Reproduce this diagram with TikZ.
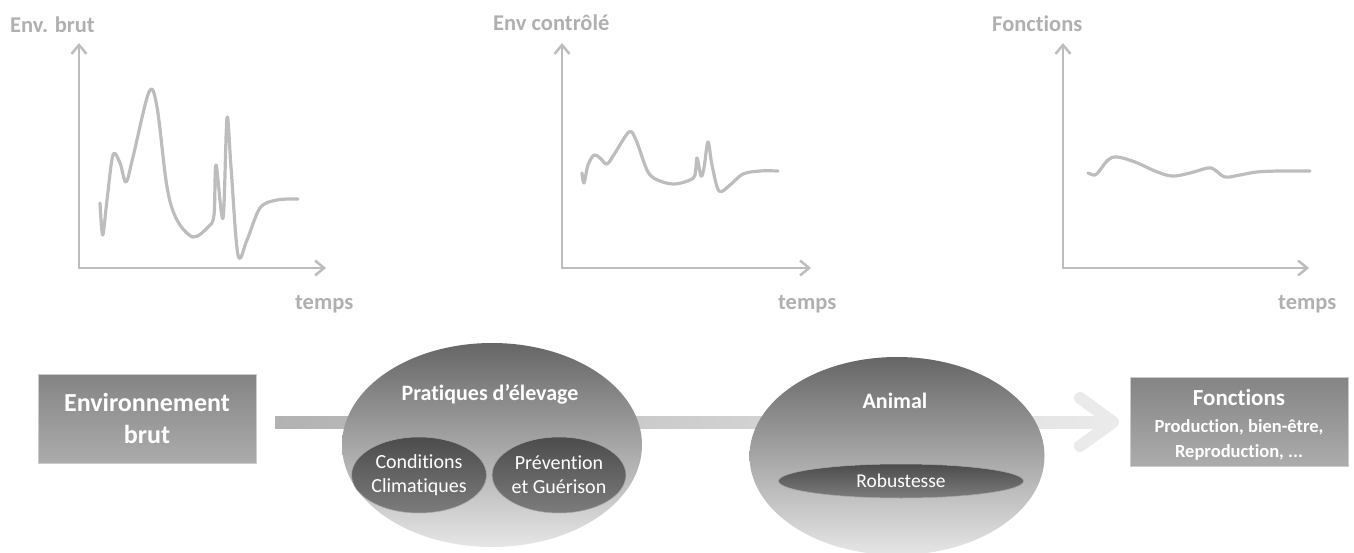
\documentclass[tikz,border=0pt]{standalone}
\usepackage{fontspec}
\setmainfont{Carlito}[Ligatures={NoCommon,NoContextual},Contextuals=NoAlternate]
\usetikzlibrary{shapes.geometric,arrows.meta}
\definecolor{axc}{HTML}{BDBDBD}
\definecolor{lblc}{HTML}{B0B0B0}
\definecolor{boxtop}{HTML}{848484}
\definecolor{boxbot}{HTML}{ACACAC}
\definecolor{boxedge}{HTML}{CBCBCB}
\definecolor{elltop}{HTML}{666666}
\definecolor{ellbot}{HTML}{E6E6E6}
\definecolor{intop}{HTML}{4C4C4C}
\definecolor{inbot}{HTML}{7C7C7C}
\definecolor{shaftl}{HTML}{B2B2B2}
\definecolor{shaftr}{HTML}{EAEAEA}
\begin{document}
\begin{tikzpicture}[x=1pt,y=-1pt,
  axis/.style={draw=axc,line width=2.5pt,{Straight Barb[length=9pt,width=15pt]}-{Straight Barb[length=9pt,width=15pt]}},
  curve/.style={draw=axc,line width=3.2pt,line cap=round,line join=round},
  lbl/.style={text=lblc,font=\fontsize{22.5}{27}\selectfont\bfseries,inner sep=0},
  graybox/.style={rectangle,draw=boxedge,line width=0.8pt,top color=boxtop,bottom color=boxbot,minimum width=218pt,minimum height=89pt,inner sep=0,text=white,align=center},
  bigell/.style={ellipse,top color=elltop,bottom color=ellbot,inner sep=0},
  smallell/.style={ellipse,draw=gray!70,line width=0.5pt,top color=intop,bottom color=inbot,inner sep=0,text=white,align=center},
  wtitle/.style={text=white,font=\fontsize{22}{26}\selectfont\bfseries,inner sep=0}]
\useasboundingbox (0,0) rectangle (1354,553);

% ---- chart 1
\node[lbl,anchor=base west] (l1) at (10,33) {Env. brut};
\node[lbl,anchor=base west] (t1) at (295,309) {temps};
\coordinate (y1) at (79,43); \coordinate (o1) at (79,268); \coordinate (x1) at (326,268);
\draw[axis] (y1) -- (o1) -- (x1);
\draw[curve] plot[smooth,tension=0.55] coordinates {(100,203) (102.7,235) (107,200) (113,155) (120,163) (126,182) (133,157) (149,92) (157,107) (167,187) (177,220) (193,237) (208,227) (214,215) (216,165) (223,218) (227,118) (231,167) (238,255) (247,240) (260,208) (277,200) (298,199)};

% ---- chart 2
\node[lbl,anchor=base west] (l2) at (493,31) {Env contrôlé};
\node[lbl,anchor=base west] (t2) at (778,309) {temps};
\coordinate (y2) at (562,43); \coordinate (o2) at (562,268); \coordinate (x2) at (811,268);
\draw[axis] (y2) -- (o2) -- (x2);
\draw[curve] plot[smooth,tension=0.55] coordinates {(582,173) (584,183) (588,165) (594,155) (600,158) (607,164) (615,153) (629,132) (636,140) (648,172) (660,181) (675,184) (690,180) (695,175) (697,158) (701,176) (704,168) (708,142) (712,165) (719,191) (730,185) (743,174) (760,171) (778,171)};

% ---- chart 3
\node[lbl,anchor=base west] (l3) at (992,32) {Fonctions};
\node[lbl,anchor=base west] (t3) at (1278,309) {temps};
\coordinate (y3) at (1063,43); \coordinate (o3) at (1063,268); \coordinate (x3) at (1309,268);
\draw[axis] (y3) -- (o3) -- (x3);
\draw[curve] plot[smooth,tension=0.6] coordinates {(1088,173) (1095,175) (1100,170) (1108,160) (1117,157) (1135,162) (1155,171) (1172,176) (1190,173) (1208,168) (1215,170) (1225,177) (1240,175) (1257,172) (1280,171) (1310,171)};

% ---- bottom flow
\node[graybox,font=\fontsize{26}{32}\selectfont\bfseries] (b1) at (147,418.5) {Environnement\\brut};
\node[graybox] (fn) at (1239,421.5) {};
\node[wtitle,anchor=base,font=\fontsize{23}{27}\selectfont\bfseries] (fnt) at (1239,405) {Fonctions};
\node[text=white,anchor=base,inner sep=0,font=\fontsize{18.5}{22}\selectfont\bfseries] (fn1) at (1239,432) {Production, bien-être,};
\node[text=white,anchor=base,inner sep=0,font=\fontsize{18.5}{22}\selectfont\bfseries] (fn2) at (1239,457) {Reproduction, ...};

\coordinate (as) at (275,422);
\coordinate (ae) at (1113,422);
\shade[left color=shaftl,right color=shaftr] (as) ++(0,-6) rectangle ([yshift=-6pt]ae);
\draw[shaftr,line width=12pt,line cap=round,line join=round] ([shift={(-33pt,24pt)}]ae) -- (ae) -- ([shift={(-33pt,-24pt)}]ae);

\node[bigell,minimum width=300pt,minimum height=204pt] (e1) at (492,445) {};
\node[wtitle,anchor=base] (e1t) at (490,400) {Pratiques d’élevage};
\node[smallell,minimum width=128pt,minimum height=76pt,font=\fontsize{20}{24}\selectfont] (c1) at (419,475) {Conditions\\Climatiques};
\node[smallell,minimum width=128pt,minimum height=76pt,font=\fontsize{20}{24}\selectfont] (c2) at (559,475) {Prévention\\et Guérison};

\node[bigell,minimum width=295pt,minimum height=198pt] (e2) at (897,456) {};
\node[wtitle,anchor=base] (e2t) at (895,408) {Animal};
\node[smallell,minimum width=245pt,minimum height=34pt,font=\fontsize{19.5}{23}\selectfont] (rb) at (901,481) {Robustesse};
\end{tikzpicture}
\end{document}
